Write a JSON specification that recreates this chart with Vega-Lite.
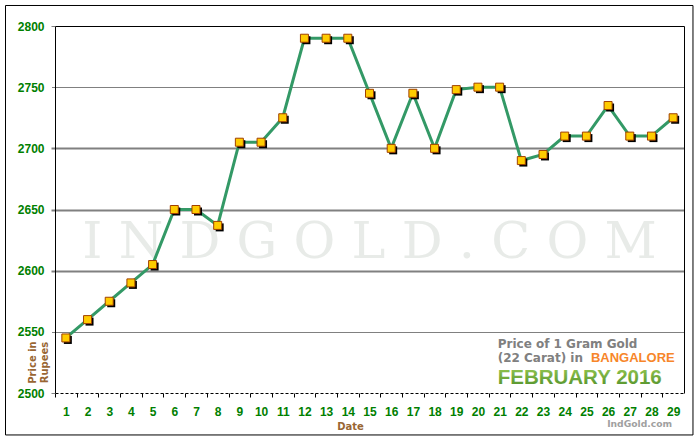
{
  "$schema": "https://vega.github.io/schema/vega-lite/v6.json",
  "width": 629,
  "height": 367,
  "autosize": {"type": "none"},
  "padding": {"left": 55, "top": 26, "right": 16, "bottom": 47},
  "background": "white",
  "config": {"view": {"stroke": null}, "font": "Liberation Sans"},
  "data": {
    "values": [
      {"day": 1, "price": 2545}, {"day": 2, "price": 2560}, {"day": 3, "price": 2575},
      {"day": 4, "price": 2590}, {"day": 5, "price": 2605}, {"day": 6, "price": 2650},
      {"day": 7, "price": 2650}, {"day": 8, "price": 2637}, {"day": 9, "price": 2705},
      {"day": 10, "price": 2705}, {"day": 11, "price": 2725}, {"day": 12, "price": 2790},
      {"day": 13, "price": 2790}, {"day": 14, "price": 2790}, {"day": 15, "price": 2745},
      {"day": 16, "price": 2700}, {"day": 17, "price": 2745}, {"day": 18, "price": 2700},
      {"day": 19, "price": 2748}, {"day": 20, "price": 2750}, {"day": 21, "price": 2750},
      {"day": 22, "price": 2690}, {"day": 23, "price": 2695}, {"day": 24, "price": 2710},
      {"day": 25, "price": 2710}, {"day": 26, "price": 2735}, {"day": 27, "price": 2710},
      {"day": 28, "price": 2710}, {"day": 29, "price": 2725}
    ]
  },
  "layer": [
    {
      "data": {"values": [{}]},
      "mark": {"type": "text", "text": "I N D G O L D . C O M", "font": "DejaVu Serif", "fontSize": 51, "color": "#e8ebe8", "align": "center", "baseline": "alphabetic", "clip": false},
      "encoding": {
        "x": {"datum": 15, "type": "quantitative", "scale": {"domain": [0.5, 29.5], "nice": false, "zero": false}, "axis": null},
        "y": {"datum": 2610.4, "type": "quantitative", "scale": {"domain": [2500, 2800], "nice": false, "zero": false}, "axis": null}
      }
    },
    {
      "mark": {"type": "line", "color": "#339966", "strokeWidth": 3},
      "encoding": {
        "x": {
          "field": "day", "type": "quantitative",
          "scale": {"domain": [0.5, 29.5], "nice": false, "zero": false},
          "axis": {
            "orient": "bottom",
            "values": [1,2,3,4,5,6,7,8,9,10,11,12,13,14,15,16,17,18,19,20,21,22,23,24,25,26,27,28,29],
            "format": "d",
            "tickOffset": -10.845, "labelOffset": 10.845,
            "tickSize": 4, "tickColor": "black",
            "domainColor": "black", "domainDash": [3, 2],
            "labelColor": "#008000", "labelFont": "Liberation Sans", "labelFontWeight": "bold", "labelFontSize": 12,
            "labelPadding": 9, "labelFlush": false, "labelOverlap": false,
            "grid": false,
            "title": "Date", "titleColor": "#996633", "titleFont": "DejaVu Sans", "titleFontSize": 10, "titleFontWeight": "bold",
            "titleX": 295, "titleY": 33, "titleBaseline": "middle", "titleAlign": "center"
          }
        },
        "y": {
          "field": "price", "type": "quantitative",
          "scale": {"domain": [2500, 2800], "nice": false, "zero": false},
          "axis": {
            "orient": "left",
            "values": [2500, 2550, 2600, 2650, 2700, 2750, 2800],
            "format": "d",
            "tickSize": 4,
            "tickColor": {"condition": {"test": "datum.value === 2550 || datum.value === 2750", "value": "black"}, "value": "#808080"},
            "tickDash": {"condition": {"test": "datum.value === 2550 || datum.value === 2750", "value": [1, 1]}, "value": []},
            "tickWidth": {"condition": {"test": "datum.value === 2500 || datum.value === 2800 || datum.value === 2550 || datum.value === 2750", "value": 1}, "value": 2},
            "domainColor": "black",
            "labelColor": "#008000", "labelFont": "Liberation Sans", "labelFontWeight": "bold", "labelFontSize": 12,
            "labelPadding": 7,
            "grid": true,
            "gridColor": {"condition": {"test": "datum.value === 2550 || datum.value === 2750", "value": "black"}, "value": "#808080"},
            "gridDash": {"condition": {"test": "datum.value === 2550 || datum.value === 2750", "value": [1, 1]}, "value": []},
            "gridWidth": {"condition": {"test": "datum.value === 2550 || datum.value === 2750", "value": 1}, "value": 2},
            "gridOpacity": {"condition": {"test": "datum.value === 2500 || datum.value === 2800", "value": 0}, "value": 1},
            "title": ["Price in", "Rupees"], "titleColor": "#996633", "titleFont": "DejaVu Sans", "titleFontSize": 10, "titleFontWeight": "bold",
            "titleX": -22.5, "titleY": 336, "titleAngle": 270, "titleBaseline": "middle", "titleAlign": "center", "titleLineHeight": 12
          }
        }
      }
    },
    {
      "mark": {"type": "point", "shape": "square", "filled": true, "color": "black", "size": 64, "opacity": 1, "xOffset": 2, "yOffset": 2},
      "encoding": {
        "x": {"field": "day", "type": "quantitative", "scale": {"domain": [0.5, 29.5], "nice": false, "zero": false}, "axis": null},
        "y": {"field": "price", "type": "quantitative", "scale": {"domain": [2500, 2800], "nice": false, "zero": false}, "axis": null}
      }
    },
    {
      "mark": {"type": "point", "shape": "square", "filled": true, "fill": "#ffcc00", "stroke": "#a04000", "strokeWidth": 1, "size": 64, "opacity": 1},
      "encoding": {
        "x": {"field": "day", "type": "quantitative", "scale": {"domain": [0.5, 29.5], "nice": false, "zero": false}, "axis": null},
        "y": {"field": "price", "type": "quantitative", "scale": {"domain": [2500, 2800], "nice": false, "zero": false}, "axis": null}
      }
    },
    {
      "mark": {"type": "point", "opacity": 0},
      "encoding": {
        "x": {"field": "day", "type": "quantitative", "scale": {"domain": [0.5, 29.5], "nice": false, "zero": false},
              "axis": {"orient": "top", "labels": false, "ticks": false, "grid": false, "domainColor": "black", "title": null}},
        "y": {"field": "price", "type": "quantitative", "scale": {"domain": [2500, 2800], "nice": false, "zero": false},
              "axis": {"orient": "right", "labels": false, "ticks": false, "grid": false, "domainColor": "black", "title": null}}
      }
    },
    {
      "data": {"values": [{}]},
      "mark": {"type": "text", "text": "Price of 1 Gram Gold", "font": "DejaVu Sans", "fontWeight": "bold", "fontSize": 12, "color": "#808080", "align": "left", "baseline": "alphabetic", "clip": false},
      "encoding": {
        "x": {"datum": 20.91, "type": "quantitative", "scale": {"domain": [0.5, 29.5], "nice": false, "zero": false}, "axis": null},
        "y": {"datum": 2536.8, "type": "quantitative", "scale": {"domain": [2500, 2800], "nice": false, "zero": false}, "axis": null}
      }
    },
    {
      "data": {"values": [{}]},
      "mark": {"type": "text", "text": "(22 Carat) in", "font": "DejaVu Sans", "fontWeight": "bold", "fontSize": 12, "color": "#808080", "align": "left", "baseline": "alphabetic", "clip": false},
      "encoding": {
        "x": {"datum": 20.91, "type": "quantitative", "scale": {"domain": [0.5, 29.5], "nice": false, "zero": false}, "axis": null},
        "y": {"datum": 2525.3, "type": "quantitative", "scale": {"domain": [2500, 2800], "nice": false, "zero": false}, "axis": null}
      }
    },
    {
      "data": {"values": [{}]},
      "mark": {"type": "text", "text": "BANGALORE", "font": "Liberation Sans", "fontWeight": "bold", "fontSize": 13, "color": "#f7862a", "align": "left", "baseline": "alphabetic", "clip": false},
      "encoding": {
        "x": {"datum": 25.21, "type": "quantitative", "scale": {"domain": [0.5, 29.5], "nice": false, "zero": false}, "axis": null},
        "y": {"datum": 2525.3, "type": "quantitative", "scale": {"domain": [2500, 2800], "nice": false, "zero": false}, "axis": null}
      }
    },
    {
      "data": {"values": [{}]},
      "mark": {"type": "text", "text": "FEBRUARY  2016", "font": "Liberation Sans", "fontWeight": "bold", "fontSize": 20.5, "align": "left", "baseline": "alphabetic", "clip": false,
               "color": {"gradient": "linear", "x1": 0, "y1": 0, "x2": 0, "y2": 1, "stops": [{"offset": 0, "color": "#9ccc55"}, {"offset": 1, "color": "#4f8f2a"}]}},
      "encoding": {
        "x": {"datum": 20.91, "type": "quantitative", "scale": {"domain": [0.5, 29.5], "nice": false, "zero": false}, "axis": null},
        "y": {"datum": 2507.4, "type": "quantitative", "scale": {"domain": [2500, 2800], "nice": false, "zero": false}, "axis": null}
      }
    },
    {
      "data": {"values": [{}]},
      "mark": {"type": "text", "text": "IndGold.com", "font": "DejaVu Sans", "fontWeight": "bold", "fontSize": 9.2, "color": "#a0a0a0", "align": "right", "baseline": "alphabetic", "clip": false},
      "encoding": {
        "x": {"datum": 28.95, "type": "quantitative", "scale": {"domain": [0.5, 29.5], "nice": false, "zero": false}, "axis": null},
        "y": {"datum": 2472.2, "type": "quantitative", "scale": {"domain": [2500, 2800], "nice": false, "zero": false}, "axis": null}
      }
    },
    {
      "data": {"values": [{}]},
      "mark": {"type": "rect", "fill": null, "stroke": "black", "strokeWidth": 1, "clip": false},
      "encoding": {
        "x": {"datum": -1.782, "type": "quantitative", "scale": {"domain": [0.5, 29.5], "nice": false, "zero": false}, "axis": null},
        "x2": {"datum": 29.914},
        "y": {"datum": 2816.76, "type": "quantitative", "scale": {"domain": [2500, 2800], "nice": false, "zero": false}, "axis": null},
        "y2": {"datum": 2465.7}
      }
    }
  ],
  "resolve": {"axis": {"x": "independent", "y": "independent"}}
}
